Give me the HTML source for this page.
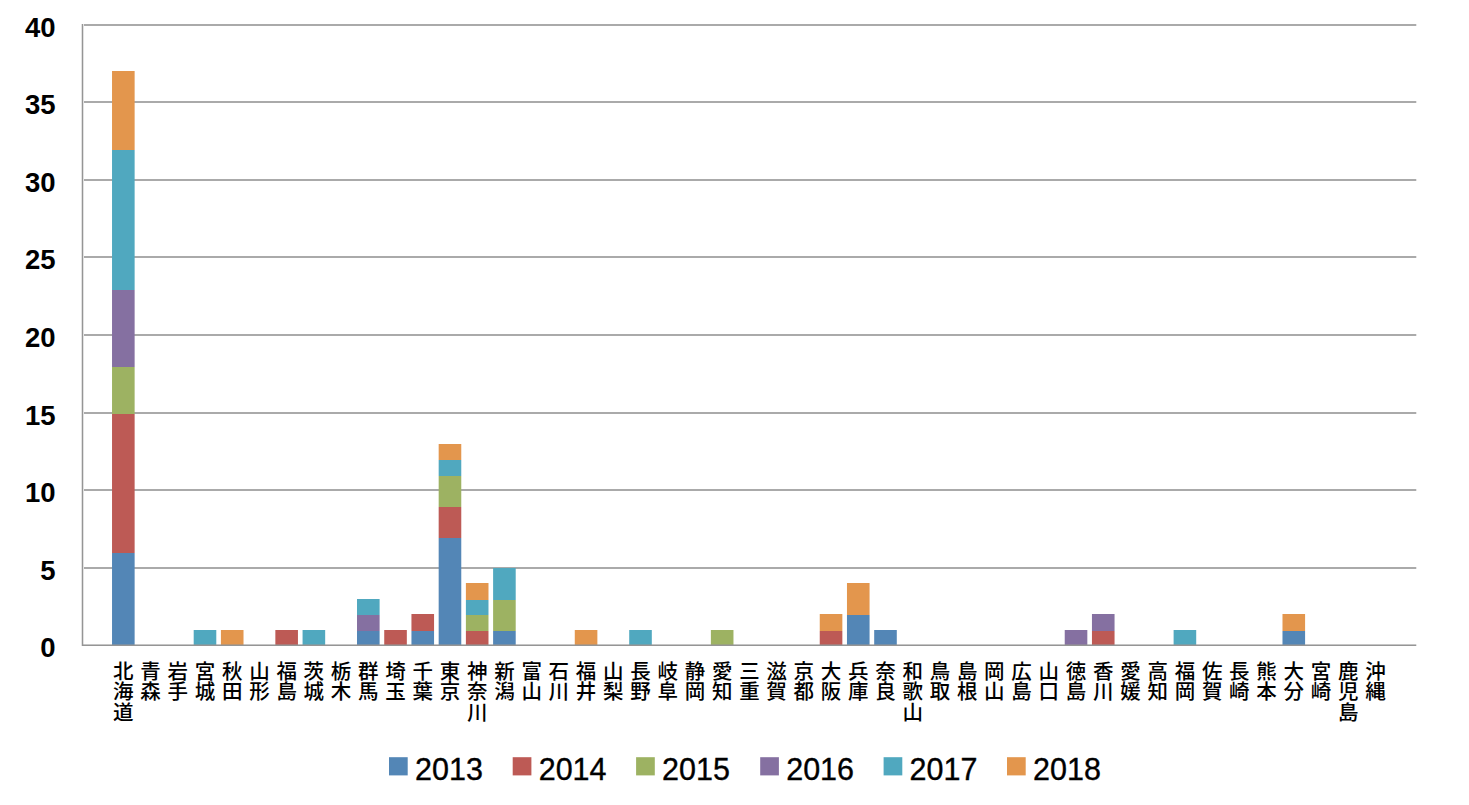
<!DOCTYPE html>
<html lang="ja"><head><meta charset="utf-8"><title>chart</title>
<style>
html,body{margin:0;padding:0;background:#fff;}
body{width:1469px;height:805px;overflow:hidden;}
svg{display:block;}
.ya{font-family:"Liberation Sans",sans-serif;font-weight:bold;font-size:27.5px;fill:#000;}
.xl{font-family:"Liberation Sans","Noto Sans CJK JP",sans-serif;font-weight:500;font-size:20.5px;fill:#000;}
.lg{font-family:"Liberation Sans",sans-serif;font-size:30.5px;fill:#000;stroke:#000;stroke-width:0.35px;}
</style></head><body>
<svg width="1469" height="805" viewBox="0 0 1469 805">
<rect x="0" y="0" width="1469" height="805" fill="#fff"/>

<rect x="82.50" y="567" width="1333.78" height="2" fill="#aaaaaa"/>
<rect x="82.50" y="489" width="1333.78" height="2" fill="#aaaaaa"/>
<rect x="82.50" y="412" width="1333.78" height="2" fill="#aaaaaa"/>
<rect x="82.50" y="334" width="1333.78" height="2" fill="#aaaaaa"/>
<rect x="82.50" y="256" width="1333.78" height="2" fill="#aaaaaa"/>
<rect x="82.50" y="179" width="1333.78" height="2" fill="#aaaaaa"/>
<rect x="82.50" y="101" width="1333.78" height="2" fill="#aaaaaa"/>
<rect x="82.50" y="24" width="1333.78" height="2" fill="#aaaaaa"/>
<rect x="112.03" y="553.00" width="22.60" height="93.00" fill="#5386b6"/>
<rect x="112.03" y="414.00" width="22.60" height="139.00" fill="#bd5a55"/>
<rect x="112.03" y="367.00" width="22.60" height="47.00" fill="#9db262"/>
<rect x="112.03" y="290.00" width="22.60" height="77.00" fill="#8570a1"/>
<rect x="112.03" y="150.00" width="22.60" height="140.00" fill="#50a8bf"/>
<rect x="112.03" y="71.00" width="22.60" height="79.00" fill="#e3964d"/>
<rect x="193.69" y="630.00" width="22.60" height="16.00" fill="#50a8bf"/>
<rect x="220.91" y="630.00" width="22.60" height="16.00" fill="#e3964d"/>
<rect x="275.35" y="630.00" width="22.60" height="16.00" fill="#bd5a55"/>
<rect x="302.57" y="630.00" width="22.60" height="16.00" fill="#50a8bf"/>
<rect x="357.01" y="631.00" width="22.60" height="15.00" fill="#5386b6"/>
<rect x="357.01" y="615.00" width="22.60" height="16.00" fill="#8570a1"/>
<rect x="357.01" y="599.00" width="22.60" height="16.00" fill="#50a8bf"/>
<rect x="384.23" y="630.00" width="22.60" height="16.00" fill="#bd5a55"/>
<rect x="411.45" y="631.00" width="22.60" height="15.00" fill="#5386b6"/>
<rect x="411.45" y="614.00" width="22.60" height="17.00" fill="#bd5a55"/>
<rect x="438.67" y="538.00" width="22.60" height="108.00" fill="#5386b6"/>
<rect x="438.67" y="507.00" width="22.60" height="31.00" fill="#bd5a55"/>
<rect x="438.67" y="476.00" width="22.60" height="31.00" fill="#9db262"/>
<rect x="438.67" y="460.00" width="22.60" height="16.00" fill="#50a8bf"/>
<rect x="438.67" y="444.00" width="22.60" height="16.00" fill="#e3964d"/>
<rect x="465.89" y="631.00" width="22.60" height="15.00" fill="#bd5a55"/>
<rect x="465.89" y="615.00" width="22.60" height="16.00" fill="#9db262"/>
<rect x="465.89" y="600.00" width="22.60" height="15.00" fill="#50a8bf"/>
<rect x="465.89" y="583.00" width="22.60" height="17.00" fill="#e3964d"/>
<rect x="493.11" y="631.00" width="22.60" height="15.00" fill="#5386b6"/>
<rect x="493.11" y="600.00" width="22.60" height="31.00" fill="#9db262"/>
<rect x="493.11" y="568.00" width="22.60" height="32.00" fill="#50a8bf"/>
<rect x="574.77" y="630.00" width="22.60" height="16.00" fill="#e3964d"/>
<rect x="629.21" y="630.00" width="22.60" height="16.00" fill="#50a8bf"/>
<rect x="710.87" y="630.00" width="22.60" height="16.00" fill="#9db262"/>
<rect x="819.75" y="631.00" width="22.60" height="15.00" fill="#bd5a55"/>
<rect x="819.75" y="614.00" width="22.60" height="17.00" fill="#e3964d"/>
<rect x="846.97" y="615.00" width="22.60" height="31.00" fill="#5386b6"/>
<rect x="846.97" y="583.00" width="22.60" height="32.00" fill="#e3964d"/>
<rect x="874.19" y="630.00" width="22.60" height="16.00" fill="#5386b6"/>
<rect x="1064.73" y="630.00" width="22.60" height="16.00" fill="#8570a1"/>
<rect x="1091.95" y="631.00" width="22.60" height="15.00" fill="#bd5a55"/>
<rect x="1091.95" y="614.00" width="22.60" height="17.00" fill="#8570a1"/>
<rect x="1173.61" y="630.00" width="22.60" height="16.00" fill="#50a8bf"/>
<rect x="1282.49" y="631.00" width="22.60" height="15.00" fill="#5386b6"/>
<rect x="1282.49" y="614.00" width="22.60" height="17.00" fill="#e3964d"/>
<rect x="81" y="24" width="3" height="622" fill="#e2e2e2"/>
<rect x="82" y="24" width="1" height="622" fill="#959595"/>
<rect x="82" y="644" width="1334.28" height="1" fill="#959595" fill-opacity="0.55"/>
<rect x="82" y="645" width="1334.28" height="1" fill="#959595"/>
<text class="ya" x="55.5" y="657.00" text-anchor="end">0</text>
<text class="ya" x="55.5" y="580.00" text-anchor="end">5</text>
<text class="ya" x="55.5" y="502.00" text-anchor="end">10</text>
<text class="ya" x="55.5" y="425.00" text-anchor="end">15</text>
<text class="ya" x="55.5" y="347.00" text-anchor="end">20</text>
<text class="ya" x="55.5" y="269.00" text-anchor="end">25</text>
<text class="ya" x="55.5" y="192.00" text-anchor="end">30</text>
<text class="ya" x="55.5" y="114.00" text-anchor="end">35</text>
<text class="ya" x="55.5" y="37.00" text-anchor="end">40</text>
<text class="xl" text-anchor="middle"><tspan x="123.33" y="678.50">北</tspan><tspan x="123.33" y="699.40">海</tspan><tspan x="123.33" y="720.30">道</tspan></text>
<text class="xl" text-anchor="middle"><tspan x="150.55" y="678.50">青</tspan><tspan x="150.55" y="699.40">森</tspan></text>
<text class="xl" text-anchor="middle"><tspan x="177.77" y="678.50">岩</tspan><tspan x="177.77" y="699.40">手</tspan></text>
<text class="xl" text-anchor="middle"><tspan x="204.99" y="678.50">宮</tspan><tspan x="204.99" y="699.40">城</tspan></text>
<text class="xl" text-anchor="middle"><tspan x="232.21" y="678.50">秋</tspan><tspan x="232.21" y="699.40">田</tspan></text>
<text class="xl" text-anchor="middle"><tspan x="259.43" y="678.50">山</tspan><tspan x="259.43" y="699.40">形</tspan></text>
<text class="xl" text-anchor="middle"><tspan x="286.65" y="678.50">福</tspan><tspan x="286.65" y="699.40">島</tspan></text>
<text class="xl" text-anchor="middle"><tspan x="313.87" y="678.50">茨</tspan><tspan x="313.87" y="699.40">城</tspan></text>
<text class="xl" text-anchor="middle"><tspan x="341.09" y="678.50">栃</tspan><tspan x="341.09" y="699.40">木</tspan></text>
<text class="xl" text-anchor="middle"><tspan x="368.31" y="678.50">群</tspan><tspan x="368.31" y="699.40">馬</tspan></text>
<text class="xl" text-anchor="middle"><tspan x="395.53" y="678.50">埼</tspan><tspan x="395.53" y="699.40">玉</tspan></text>
<text class="xl" text-anchor="middle"><tspan x="422.75" y="678.50">千</tspan><tspan x="422.75" y="699.40">葉</tspan></text>
<text class="xl" text-anchor="middle"><tspan x="449.97" y="678.50">東</tspan><tspan x="449.97" y="699.40">京</tspan></text>
<text class="xl" text-anchor="middle"><tspan x="477.19" y="678.50">神</tspan><tspan x="477.19" y="699.40">奈</tspan><tspan x="477.19" y="720.30">川</tspan></text>
<text class="xl" text-anchor="middle"><tspan x="504.41" y="678.50">新</tspan><tspan x="504.41" y="699.40">潟</tspan></text>
<text class="xl" text-anchor="middle"><tspan x="531.63" y="678.50">富</tspan><tspan x="531.63" y="699.40">山</tspan></text>
<text class="xl" text-anchor="middle"><tspan x="558.85" y="678.50">石</tspan><tspan x="558.85" y="699.40">川</tspan></text>
<text class="xl" text-anchor="middle"><tspan x="586.07" y="678.50">福</tspan><tspan x="586.07" y="699.40">井</tspan></text>
<text class="xl" text-anchor="middle"><tspan x="613.29" y="678.50">山</tspan><tspan x="613.29" y="699.40">梨</tspan></text>
<text class="xl" text-anchor="middle"><tspan x="640.51" y="678.50">長</tspan><tspan x="640.51" y="699.40">野</tspan></text>
<text class="xl" text-anchor="middle"><tspan x="667.73" y="678.50">岐</tspan><tspan x="667.73" y="699.40">阜</tspan></text>
<text class="xl" text-anchor="middle"><tspan x="694.95" y="678.50">静</tspan><tspan x="694.95" y="699.40">岡</tspan></text>
<text class="xl" text-anchor="middle"><tspan x="722.17" y="678.50">愛</tspan><tspan x="722.17" y="699.40">知</tspan></text>
<text class="xl" text-anchor="middle"><tspan x="749.39" y="678.50">三</tspan><tspan x="749.39" y="699.40">重</tspan></text>
<text class="xl" text-anchor="middle"><tspan x="776.61" y="678.50">滋</tspan><tspan x="776.61" y="699.40">賀</tspan></text>
<text class="xl" text-anchor="middle"><tspan x="803.83" y="678.50">京</tspan><tspan x="803.83" y="699.40">都</tspan></text>
<text class="xl" text-anchor="middle"><tspan x="831.05" y="678.50">大</tspan><tspan x="831.05" y="699.40">阪</tspan></text>
<text class="xl" text-anchor="middle"><tspan x="858.27" y="678.50">兵</tspan><tspan x="858.27" y="699.40">庫</tspan></text>
<text class="xl" text-anchor="middle"><tspan x="885.49" y="678.50">奈</tspan><tspan x="885.49" y="699.40">良</tspan></text>
<text class="xl" text-anchor="middle"><tspan x="912.71" y="678.50">和</tspan><tspan x="912.71" y="699.40">歌</tspan><tspan x="912.71" y="720.30">山</tspan></text>
<text class="xl" text-anchor="middle"><tspan x="939.93" y="678.50">鳥</tspan><tspan x="939.93" y="699.40">取</tspan></text>
<text class="xl" text-anchor="middle"><tspan x="967.15" y="678.50">島</tspan><tspan x="967.15" y="699.40">根</tspan></text>
<text class="xl" text-anchor="middle"><tspan x="994.37" y="678.50">岡</tspan><tspan x="994.37" y="699.40">山</tspan></text>
<text class="xl" text-anchor="middle"><tspan x="1021.59" y="678.50">広</tspan><tspan x="1021.59" y="699.40">島</tspan></text>
<text class="xl" text-anchor="middle"><tspan x="1048.81" y="678.50">山</tspan><tspan x="1048.81" y="699.40">口</tspan></text>
<text class="xl" text-anchor="middle"><tspan x="1076.03" y="678.50">徳</tspan><tspan x="1076.03" y="699.40">島</tspan></text>
<text class="xl" text-anchor="middle"><tspan x="1103.25" y="678.50">香</tspan><tspan x="1103.25" y="699.40">川</tspan></text>
<text class="xl" text-anchor="middle"><tspan x="1130.47" y="678.50">愛</tspan><tspan x="1130.47" y="699.40">媛</tspan></text>
<text class="xl" text-anchor="middle"><tspan x="1157.69" y="678.50">高</tspan><tspan x="1157.69" y="699.40">知</tspan></text>
<text class="xl" text-anchor="middle"><tspan x="1184.91" y="678.50">福</tspan><tspan x="1184.91" y="699.40">岡</tspan></text>
<text class="xl" text-anchor="middle"><tspan x="1212.13" y="678.50">佐</tspan><tspan x="1212.13" y="699.40">賀</tspan></text>
<text class="xl" text-anchor="middle"><tspan x="1239.35" y="678.50">長</tspan><tspan x="1239.35" y="699.40">崎</tspan></text>
<text class="xl" text-anchor="middle"><tspan x="1266.57" y="678.50">熊</tspan><tspan x="1266.57" y="699.40">本</tspan></text>
<text class="xl" text-anchor="middle"><tspan x="1293.79" y="678.50">大</tspan><tspan x="1293.79" y="699.40">分</tspan></text>
<text class="xl" text-anchor="middle"><tspan x="1321.01" y="678.50">宮</tspan><tspan x="1321.01" y="699.40">崎</tspan></text>
<text class="xl" text-anchor="middle"><tspan x="1348.23" y="678.50">鹿</tspan><tspan x="1348.23" y="699.40">児</tspan><tspan x="1348.23" y="720.30">島</tspan></text>
<text class="xl" text-anchor="middle"><tspan x="1375.45" y="678.50">沖</tspan><tspan x="1375.45" y="699.40">縄</tspan></text>
<rect x="389.00" y="757.2" width="18.7" height="18.2" fill="#5386b6"/>
<text class="lg" x="415.00" y="779.5">2013</text>
<rect x="512.70" y="757.2" width="18.7" height="18.2" fill="#bd5a55"/>
<text class="lg" x="538.70" y="779.5">2014</text>
<rect x="636.10" y="757.2" width="18.7" height="18.2" fill="#9db262"/>
<text class="lg" x="662.10" y="779.5">2015</text>
<rect x="760.20" y="757.2" width="18.7" height="18.2" fill="#8570a1"/>
<text class="lg" x="786.20" y="779.5">2016</text>
<rect x="883.60" y="757.2" width="18.7" height="18.2" fill="#50a8bf"/>
<text class="lg" x="909.60" y="779.5">2017</text>
<rect x="1007.00" y="757.2" width="18.7" height="18.2" fill="#e3964d"/>
<text class="lg" x="1033.00" y="779.5">2018</text>
</svg>
</body></html>
